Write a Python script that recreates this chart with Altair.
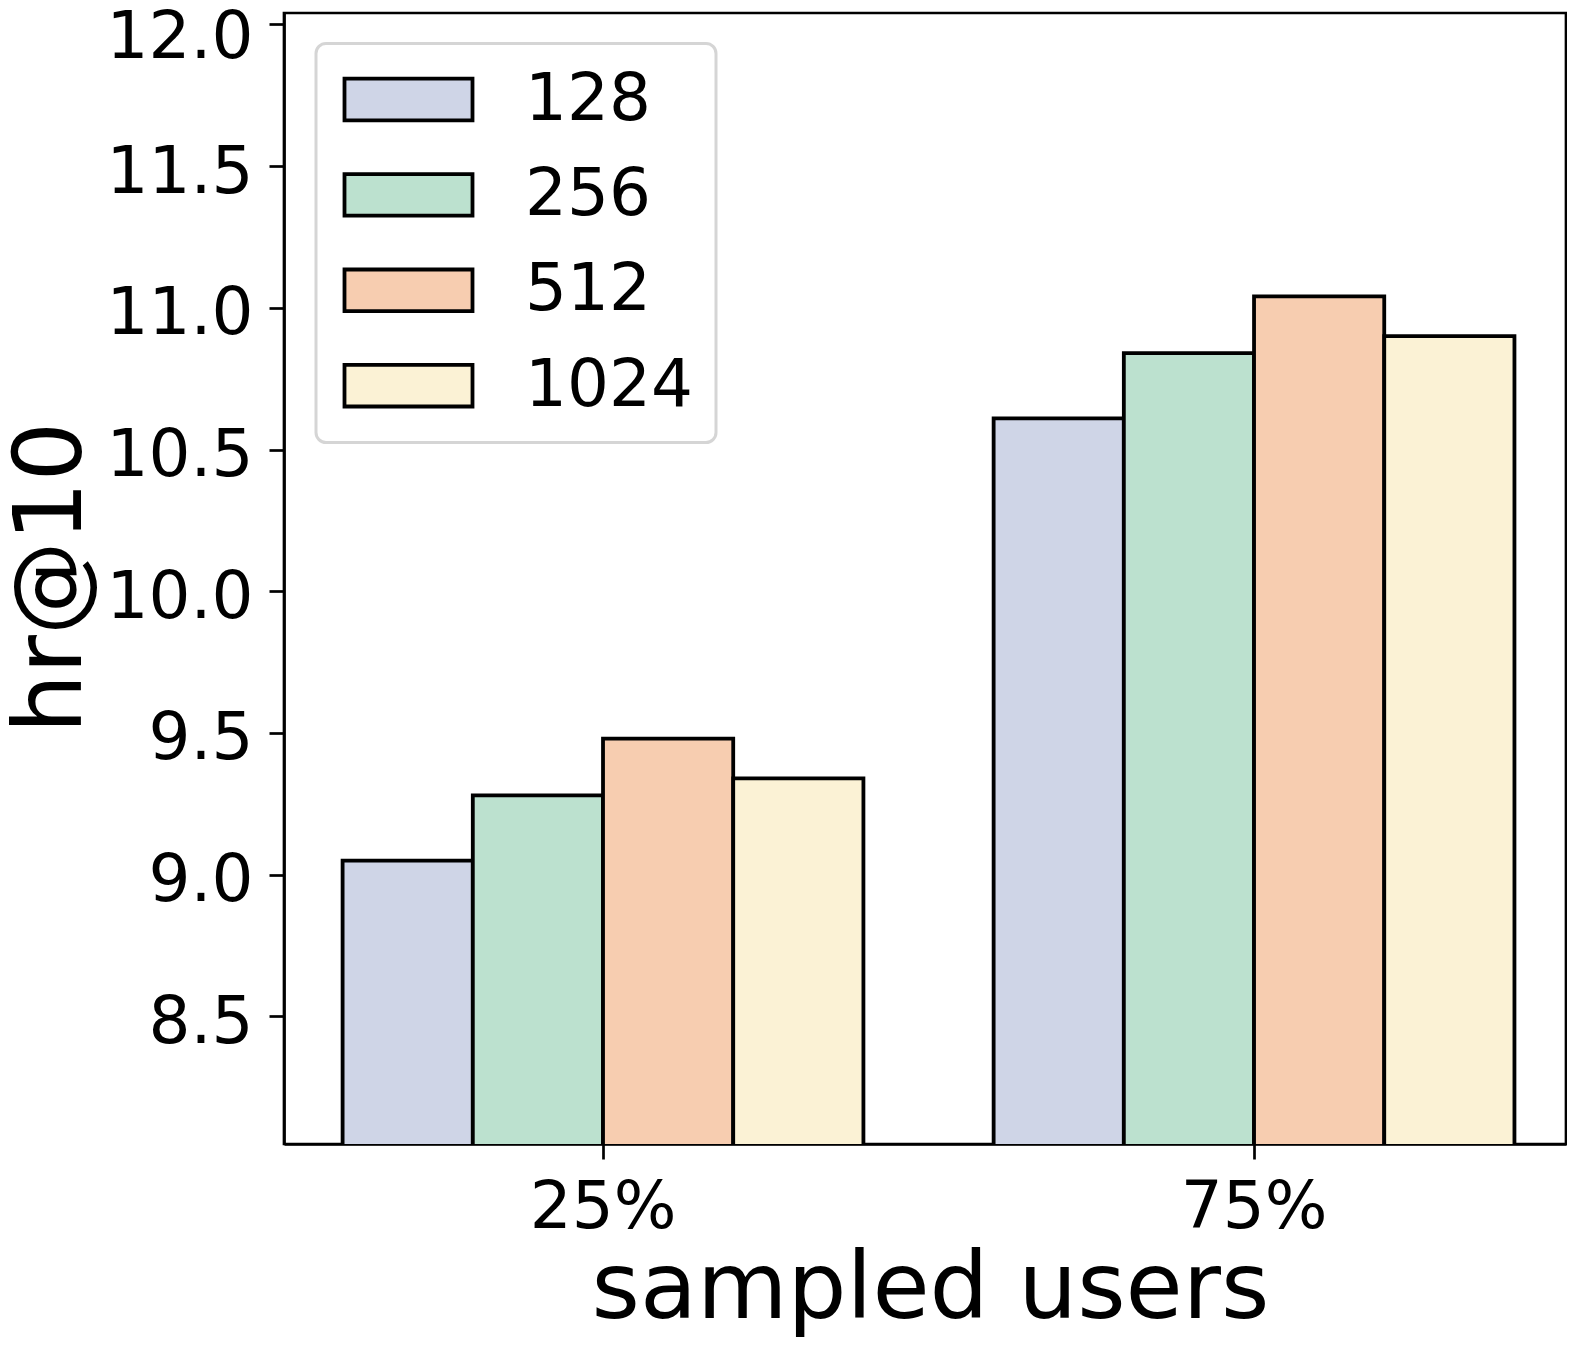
import altair as alt
import pandas as pd

groups = ["25%", "75%"]
sizes = ["128", "256", "512", "1024"]
values_25 = [9.05, 9.28, 9.48, 9.34]
values_75 = [10.61, 10.84, 11.04, 10.90]
colors = ["#cfd5e7", "#bce1cf", "#f7cdb0", "#fbf2d5"]
y_ticks = [8.5, 9.0, 9.5, 10.0, 10.5, 11.0, 11.5, 12.0]

rows = []
for g, vals in zip(groups, [values_25, values_75]):
    for s, v in zip(sizes, vals):
        rows.append({"group": g, "size": s, "value": v})
df = pd.DataFrame(rows)

FONT = "DejaVu Sans"
W, H = 1282, 1131

chart = alt.Chart(df).mark_bar(
    stroke="black", strokeWidth=3.8, clip=True, opacity=1
).encode(
    x=alt.X(
        "group:N",
        sort=groups,
        scale=alt.Scale(paddingInner=0.2, paddingOuter=0.0846, align=0.532),
        axis=alt.Axis(
            title="sampled users",
            labelAngle=0,
            labelFontSize=66,
            labelFont=FONT,
            labelColor="black",
            labelBaseline="alphabetic",
            labelPadding=68,
            tickSize=15,
            tickWidth=2.7,
            tickColor="black",
            domainColor="black",
            domainWidth=2.7,
            titleFontSize=93,
            titleFont=FONT,
            titleFontWeight="normal",
            titleColor="black",
            titleBaseline="alphabetic",
            titleAlign="center",
            titleX=646,
            titleY=173,
        ),
    ),
    xOffset=alt.XOffset("size:N", sort=sizes, scale=alt.Scale(paddingInner=0, paddingOuter=0)),
    y=alt.Y(
        "value:Q",
        scale=alt.Scale(domain=[8.05, 12.04], zero=False, nice=False),
        axis=alt.Axis(
            title="hr@10",
            values=y_ticks,
            format=".1f",
            grid=False,
            labelFontSize=66,
            labelFont=FONT,
            labelColor="black",
            labelOffset=6,
            labelPadding=16,
            labelOverlap=False,
            labelFlush=15,
            labelFlushOffset=25,
            tickSize=15,
            tickWidth=2.7,
            tickColor="black",
            domainColor="black",
            domainWidth=2.7,
            titleFontSize=94,
            titleFont=FONT,
            titleFontWeight="normal",
            titleColor="black",
            titleAngle=270,
            titleBaseline="alphabetic",
            titleAlign="center",
            titleX=-204,
            titleY=564,
        ),
    ),
    color=alt.Color(
        "size:N",
        sort=sizes,
        scale=alt.Scale(domain=sizes, range=colors),
        legend=alt.Legend(
            title=None,
            orient="none",
            legendX=32,
            legendY=30.5,
            symbolType="M-4,-1.3H4V1.3H-4Z",
            symbolSize=1024,
            symbolStrokeColor="black",
            symbolStrokeWidth=3.8,
            symbolOpacity=1,
            symbolOffset=36.5,
            labelFontSize=66,
            labelFont=FONT,
            labelColor="black",
            labelOffset=83.5,
            labelLimit=400,
            rowPadding=29.4,
            padding=23,
            strokeColor="#d5d5d5",
            fillColor="white",
        ),
    ),
).properties(
    width=W,
    height=H,
    autosize=alt.AutoSizeParams(type="none"),
    padding={"left": 276, "top": 5, "right": 1, "bottom": 196},
).configure_view(
    stroke="black", strokeWidth=2.7
).configure_legend(
    strokeWidth=3, cornerRadius=10
)

chart.save("out.html", embed_options={"renderer": "svg", "actions": False})
